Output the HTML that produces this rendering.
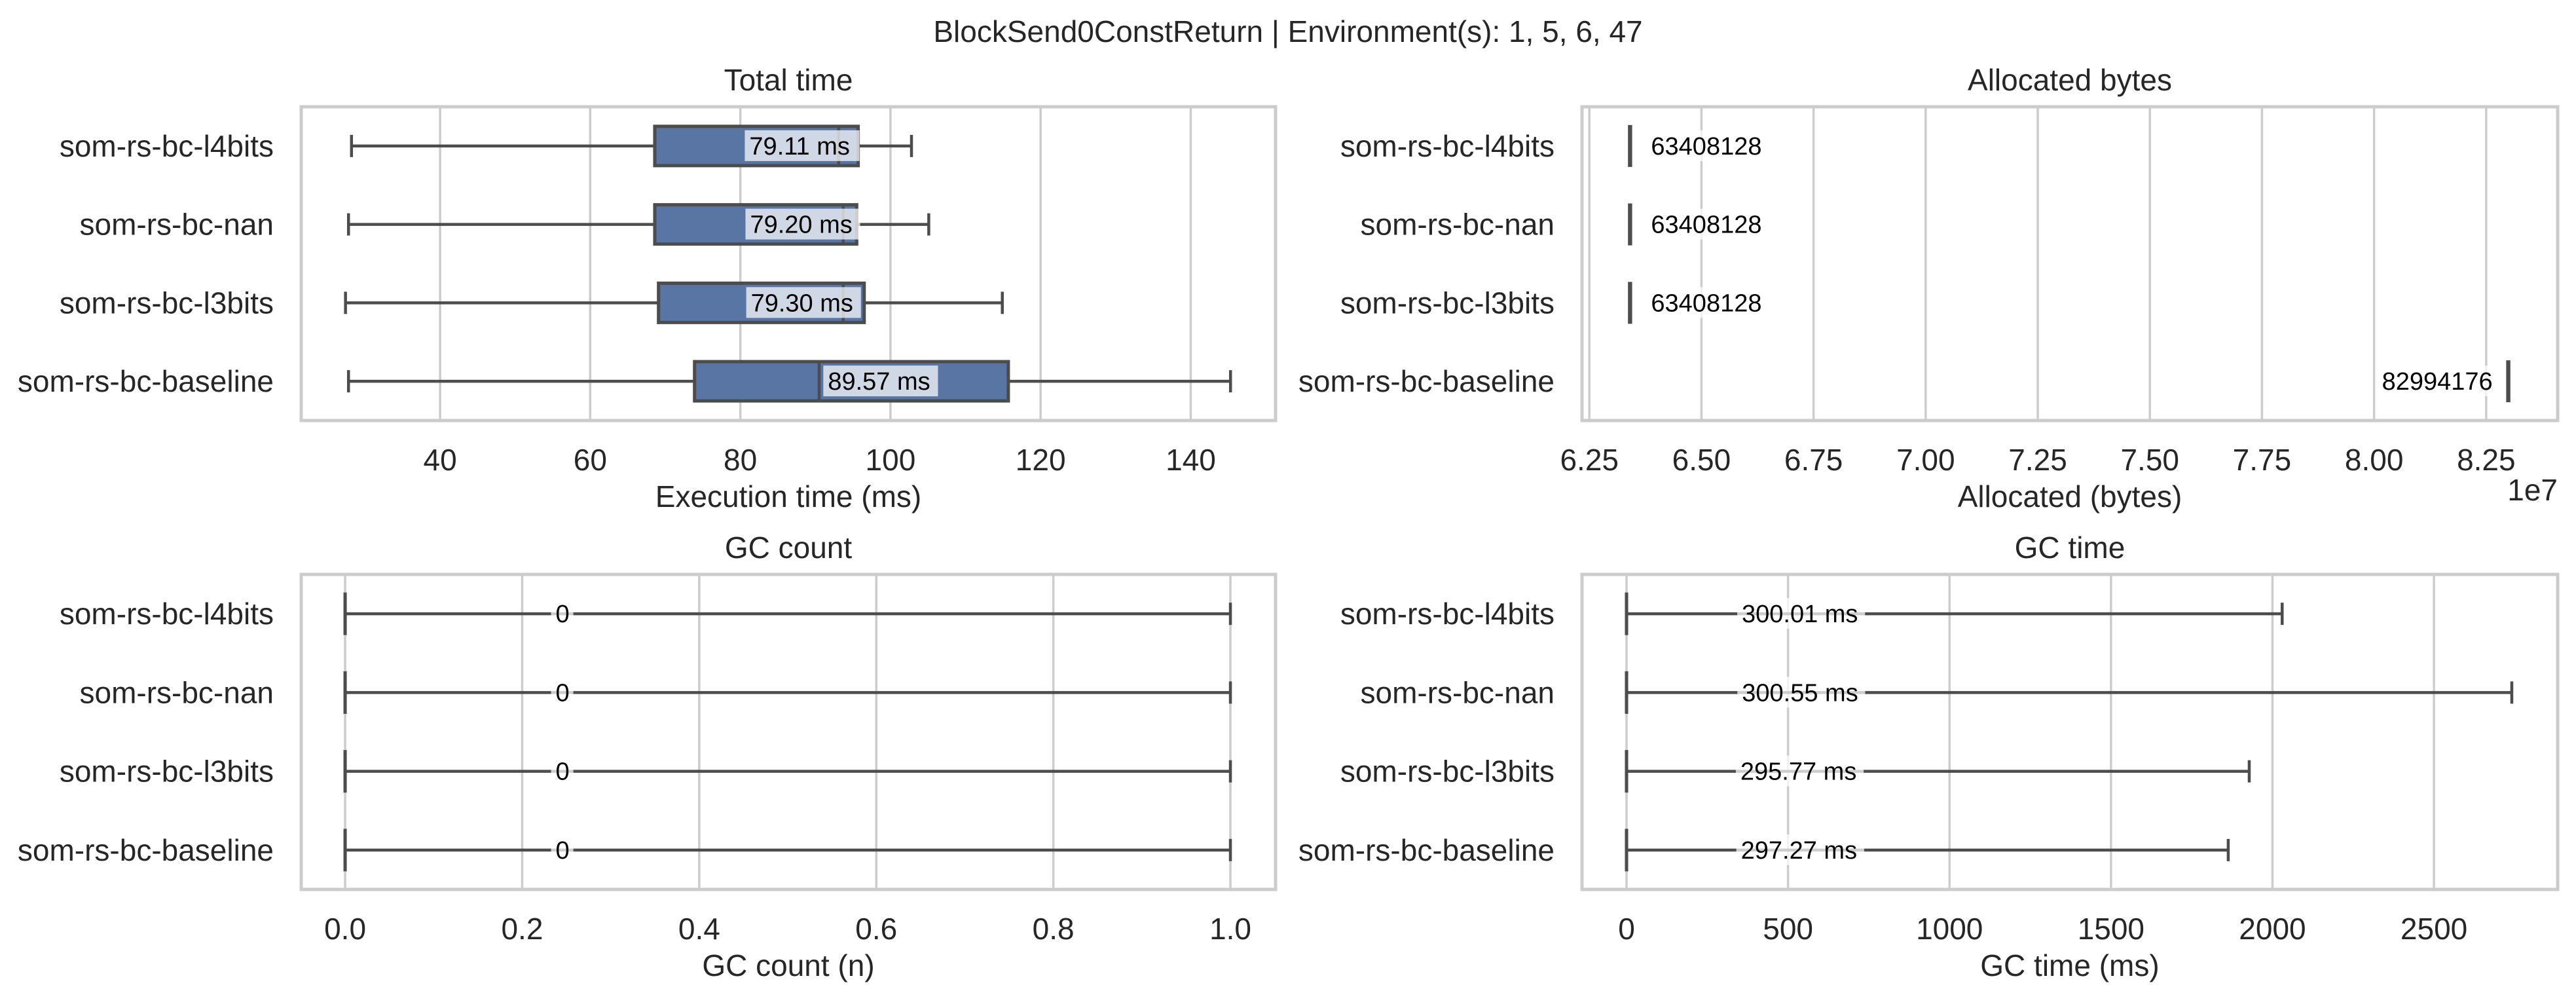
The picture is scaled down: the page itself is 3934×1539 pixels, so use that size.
<!DOCTYPE html>
<html><head><meta charset="utf-8">
<style>
html,body{margin:0;padding:0;background:#fff;}
svg text{font-family:"Liberation Sans",Arial,sans-serif;fill:#262626;}
</style></head>
<body>
<svg id="fig" width="3934" height="1534" viewBox="0 0 3934 1534" xmlns="http://www.w3.org/2000/svg">
<rect width="3934" height="1534" fill="#fff"/>
<text x="1967" y="64" font-size="46" text-anchor="middle">BlockSend0ConstReturn | Environment(s): 1, 5, 6, 47</text>
</svg>
<script>
const categories = ["som-rs-bc-l4bits","som-rs-bc-nan","som-rs-bc-l3bits","som-rs-bc-baseline"];
// Total time
const ttLo = [28.2, 27.8, 27.4, 27.8];
const ttQ1 = [68.6, 68.6, 69.1, 73.9];
const ttMed = [93.1, 93.7, 93.7, 90.5];
const ttQ3 = [95.7, 95.5, 96.5, 115.7];
const ttHi = [102.8, 105.1, 114.9, 145.3];
const ttMean = [79.11, 79.20, 79.30, 89.57];
const ttLabels = ["79.11 ms","79.20 ms","79.30 ms","89.57 ms"];
const ttTicks = [40,60,80,100,120,140];
// Allocated bytes (units of 1e7)
const abLo = [6.3408, 6.3408, 6.3408, 8.2994];
const abQ1 = [6.3390, 6.3390, 6.3390, 8.2975];
const abMed = [6.3408, 6.3408, 6.3408, 8.2994];
const abQ3 = [6.3425, 6.3425, 6.3425, 8.3010];
const abHi = [6.3408, 6.3408, 6.3408, 8.2994];
const abMean = [6.3408128, 6.3408128, 6.3408128, 8.2994176];
const abLabels = ["63408128","63408128","63408128","82994176"];
const abTicks = [6.25,6.5,6.75,7.0,7.25,7.5,7.75,8.0,8.25];
const abTickLabels = ["6.25","6.50","6.75","7.00","7.25","7.50","7.75","8.00","8.25"];
// GC count
const gcLo = [0,0,0,0];
const gcQ1 = [0,0,0,0];
const gcMed = [0,0,0,0];
const gcQ3 = [0,0,0,0];
const gcHi = [1,1,1,1];
const gcMean = [0.22,0.22,0.22,0.22];
const gcLabels = ["0","0","0","0"];
const gcTicks = [0,0.2,0.4,0.6,0.8,1.0];
const gcTickLabels = ["0.0","0.2","0.4","0.6","0.8","1.0"];
// GC time
const gtLo = [0,0,0,0];
const gtQ1 = [0,0,0,0];
const gtMed = [0,0,0,0];
const gtQ3 = [0,0,0,0];
const gtHi = [2030, 2741, 1928, 1863];
const gtMean = [300.01, 300.55, 295.77, 297.27];
const gtLabels = ["300.01 ms","300.55 ms","295.77 ms","297.27 ms"];
const gtTicks = [0,500,1000,1500,2000,2500];

const NS = "http://www.w3.org/2000/svg";
const svg = document.getElementById('fig');
function mk(tag, attrs, parent){
  const e = document.createElementNS(NS, tag);
  for (const k in attrs) e.setAttribute(k, attrs[k]);
  (parent||svg).appendChild(e);
  return e;
}

function panel(o){
  const g = mk('g', {});
  
  
  const L=o.L, R=o.R, T=o.T, B=o.B;
  const x = v => L + (v - o.min) / (o.max - o.min) * (R - L);
  const rowH = (B - T) / categories.length;
  const y = i => T + rowH * (i + 0.5);
  const tt = mk('text', {x:(L+R)/2, y:T-25, 'font-size':46, 'text-anchor':'middle'}, g);
  tt.textContent = o.title;
  
  
  o.ticks.forEach((t,i)=>{
    const gl = mk('line', {x1:x(t), x2:x(t), y1:T, y2:B, stroke:'#cccccc', 'stroke-width':3.5}, g);
    
    
    const tl = mk('text', {x:x(t), y:B+76, 'font-size':46, 'text-anchor':'middle'}, g);
    tl.textContent = o.tickLabels ? o.tickLabels[i] : String(t);
    
    
  });
  categories.forEach((c,i)=>{
    const yl = mk('text', {x:L-42, y:y(i)+16, 'font-size':46, 'text-anchor':'end'}, g);
    yl.textContent = c;
    
    
  });
  const boxH = 60, capH = 34, lc = '#4c4c4c';
  categories.forEach((c,i)=>{
    const cy = y(i);
    const w1 = mk('line', {x1:x(o.lo[i]), x2:x(o.q1[i]), y1:cy, y2:cy, stroke:lc, 'stroke-width':4.5}, g);
    
    
    const w2 = mk('line', {x1:x(o.q3[i]), x2:x(o.hi[i]), y1:cy, y2:cy, stroke:lc, 'stroke-width':4.5}, g);
    
    
    const c1 = mk('line', {x1:x(o.lo[i]), x2:x(o.lo[i]), y1:cy-capH/2, y2:cy+capH/2, stroke:lc, 'stroke-width':4.5}, g);
    
    
    const c2 = mk('line', {x1:x(o.hi[i]), x2:x(o.hi[i]), y1:cy-capH/2, y2:cy+capH/2, stroke:lc, 'stroke-width':4.5}, g);
    
    
    const b = mk('rect', {x:x(o.q1[i]), y:cy-boxH/2, width:Math.max(0.01, x(o.q3[i])-x(o.q1[i])), height:boxH, fill:'#5875a4', stroke:lc, 'stroke-width':o.bw||5}, g);
    
    
    const m = mk('line', {x1:x(o.med[i]), x2:x(o.med[i]), y1:cy-boxH/2, y2:cy+boxH/2, stroke:lc, 'stroke-width':4.5}, g);
    
    
  });
  categories.forEach((c,i)=>{
    const cy = y(i);
    const fs = 38;
    const tw = o.labels[i].length * fs * 0.53;
    let lx = x(o.mean[i]) + o.off;
    if (lx + tw > R - 10) lx = x(o.mean[i]) - o.off - tw;
    const bg = mk('rect', {x:lx-7, y:cy-24, width:tw+14, height:47, fill:'#ffffff', 'fill-opacity':0.72}, g);
    
    
    const t = mk('text', {x:lx, y:cy+13, 'font-size':fs, style:'fill:#000'}, g);
    t.textContent = o.labels[i];
    
    
  });
  const fr = mk('rect', {x:L, y:T, width:R-L, height:B-T, fill:'none', stroke:'#cccccc', 'stroke-width':5}, g);
  
  
  const xl = mk('text', {x:(L+R)/2, y:B+132, 'font-size':46, 'text-anchor':'middle'}, g);
  xl.textContent = o.xlabel;
  
  
}

panel({name:'total-time-panel', title:'Total time', xlabel:'Execution time (ms)', L:460, R:1948, T:163, B:642,
  min:21.5, max:151.3, ticks:ttTicks, lo:ttLo, q1:ttQ1, med:ttMed, q3:ttQ3, hi:ttHi, mean:ttMean, labels:ttLabels, off:24});
panel({name:'allocated-bytes-panel', title:'Allocated bytes', xlabel:'Allocated (bytes)', L:2416, R:3906, T:163, B:642,
  min:6.2336, max:8.4094, ticks:abTicks, tickLabels:abTickLabels, lo:abLo, q1:abQ1, med:abMed, q3:abQ3, hi:abHi, mean:abMean, labels:abLabels, off:32, bw:4});
panel({name:'gc-count-panel', title:'GC count', xlabel:'GC count (n)', L:460, R:1948, T:877, B:1358,
  min:-0.0496, max:1.051, ticks:gcTicks, tickLabels:gcTickLabels, lo:gcLo, q1:gcQ1, med:gcMed, q3:gcQ3, hi:gcHi, mean:gcMean, labels:gcLabels, off:24});
panel({name:'gc-time-panel', title:'GC time', xlabel:'GC time (ms)', L:2416, R:3906, T:877, B:1358,
  min:-137.9, max:2883, ticks:gtTicks, lo:gtLo, q1:gtQ1, med:gtMed, q3:gtQ3, hi:gtHi, mean:gtMean, labels:gtLabels, off:28});

const off = mk('text', {x:3906, y:764, 'font-size':46, 'text-anchor':'end'});
off.textContent = '1e7';


</script>
</body></html>
